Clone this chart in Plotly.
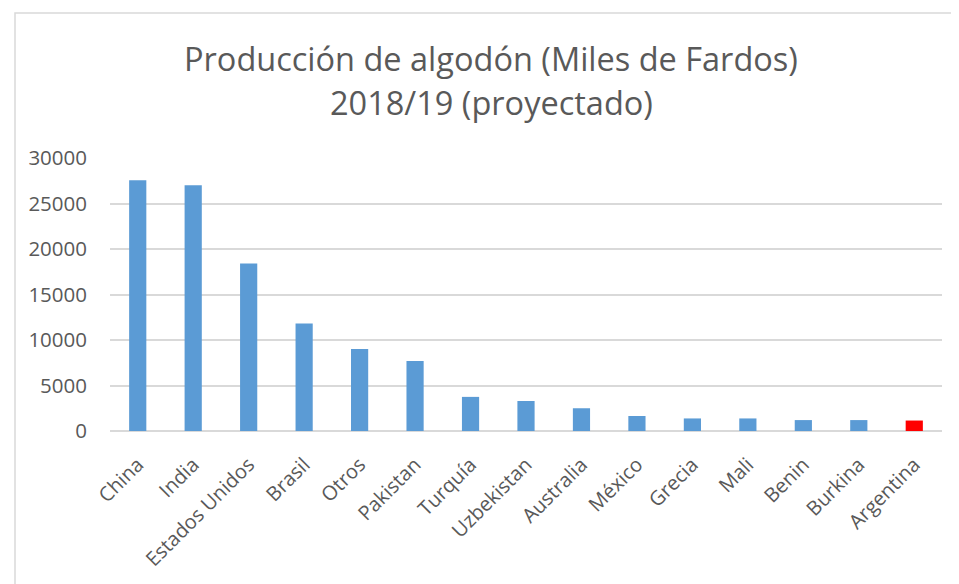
import plotly.graph_objects as go

categories = ["China", "India", "Estados Unidos", "Brasil", "Otros", "Pakistan",
              "Turquía", "Uzbekistan", "Australia", "México", "Grecia", "Mali",
              "Benin", "Burkina", "Argentina"]
values = [27550, 27000, 18400, 11800, 9000, 7700, 3750, 3300, 2500, 1650,
          1380, 1380, 1200, 1200, 1150]
bar_colors = ["#5b9bd5"] * 14 + ["#ff0000"]
y_ticks = [0, 5000, 10000, 15000, 20000, 25000, 30000]
title_lines = ["Producción de algodón (Miles de Fardos)", "2018/19 (proyectado)"]

OFF = 8  # page body margin
W, H = 959, 584
L, R, T, B = 110 - OFF, 17 + OFF, 158 - OFF, 153 + OFF
pw, ph = W - L - R, H - T - B

fig = go.Figure(go.Bar(x=categories, y=values, marker_color=bar_colors,
                       marker_line_width=0, width=0.31))

font = "Open Sans, Segoe UI, sans-serif"
fig.update_layout(
    width=W, height=H, margin=dict(l=L, r=R, t=T, b=B),
    paper_bgcolor="white", plot_bgcolor="white",
    showlegend=False,
    font=dict(family=font, color="#595959", size=20),
)
fig.update_xaxes(tickangle=-45, tickfont=dict(size=20, color="#595959"),
                 showgrid=False, showline=False, ticks="", ticklabelstandoff=17)
fig.update_yaxes(range=[0, 30000], tickvals=y_ticks, ticktext=[str(v) for v in y_ticks],
                 showgrid=True, gridcolor="#d9d9d9", gridwidth=1.5,
                 zeroline=True, zerolinecolor="#d9d9d9", zerolinewidth=1.5,
                 tickfont=dict(size=20.5, color="#595959"), ticklabelstandoff=22)

def px2x(p):
    return (p - OFF - L) / pw

def px2y(p):
    return 1 - (p - OFF - T) / ph

fig.add_annotation(text=title_lines[0], x=px2x(491), y=px2y(59), xref="paper", yref="paper",
                   showarrow=False, font=dict(size=32.5, color="#595959"),
                   xanchor="center", yanchor="middle")
fig.add_annotation(text=title_lines[1], x=px2x(491), y=px2y(102), xref="paper", yref="paper",
                   showarrow=False, font=dict(size=32.5, color="#595959"),
                   xanchor="center", yanchor="middle")

fig.add_shape(type="rect", xref="paper", yref="paper",
              x0=px2x(15), x1=px2x(990), y0=px2y(620), y1=px2y(13),
              line=dict(color="#d9d9d9", width=1.5), fillcolor="rgba(0,0,0,0)", layer="below")

fig.write_html("out.html")
